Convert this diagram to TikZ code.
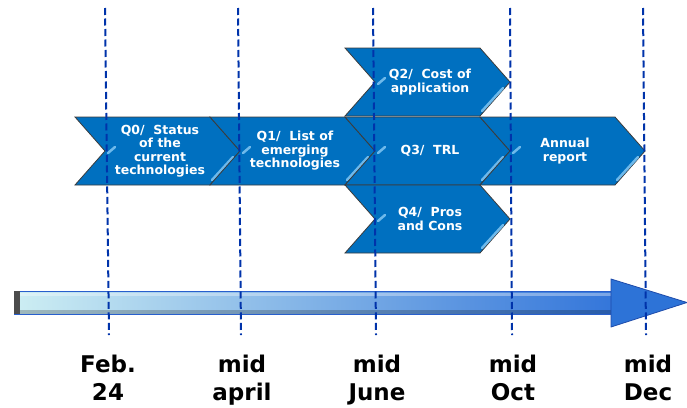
\documentclass[tikz,border=0pt]{standalone}
\usepackage{fontspec}
\setmainfont{DejaVu Sans}
\usetikzlibrary{calc}
\definecolor{chevblue}{RGB}{0,112,192}
\definecolor{chevedge}{RGB}{60,60,60}
\definecolor{glint}{RGB}{110,185,235}
\definecolor{dashblue}{RGB}{0,51,170}
\definecolor{shaftlight}{RGB}{205,238,243}
\definecolor{shaftdark}{RGB}{52,118,218}
\definecolor{shaftedge}{RGB}{40,95,205}
\definecolor{headblue}{RGB}{45,115,215}
\definecolor{headedge}{RGB}{30,75,170}
\tikzset{%
    chev/.style={fill=chevblue, draw=chevedge, line width=0.8pt, line join=miter},
    glow/.style={glint, line width=2.5pt, line cap=round},
    qtext/.style={text=white, font=\bfseries\fontsize{12.5}{13.5}\selectfont, align=center, inner sep=0pt},
    datelbl/.style={font=\bfseries\fontsize{23}{28}\selectfont, align=center, inner sep=0pt, anchor=base},
    milestone/.style={dashblue, line width=2pt, dash pattern=on 7pt off 3.5pt}
}
% chevron with its left top corner at (#1,#2)
\newcommand{\chevron}[2]{%
    \draw[chev] (#1,#2) -- ++(135,0) -- ++(30,34) -- ++(-30,34) -- ++(-135,0) -- ++(30,-34) -- cycle;
    \draw[glow] ($(#1,#2)+(158,40)$) -- ($(#1,#2)+(137,63)$);
    \draw[glow] ($(#1,#2)+(33,36)$) -- ($(#1,#2)+(40,30)$);
}

\begin{document}
\begin{tikzpicture}[x=1pt,y=-1pt]
    \useasboundingbox (0,0) rectangle (687,407);
    % work packages
    \chevron{75}{117}
    \chevron{210}{117}
    \chevron{345}{48}
    \chevron{345}{117}
    \chevron{345}{185}
    \chevron{480}{117}
    \node[qtext] (q0) at (160,151) {Q0/~ Status\\of the\\current\\technologies};
    \node[qtext] (q1) at (295,151) {Q1/~ List of\\emerging\\technologies};
    \node[qtext] (q2) at (430,82) {Q2/~ Cost of\\application};
    \node[qtext] (q3) at (430,151) {Q3/~ TRL};
    \node[qtext] (q4) at (430,219) {Q4/~ Pros\\and Cons};
    \node[qtext] (rep) at (565,151) {Annual\\report};
    % time axis
    \shadedraw[left color=shaftlight, right color=shaftdark, draw=shaftedge, line width=0.8pt] (14,291) rectangle (612,314);
    \fill[black, opacity=0.22] (20,310) rectangle (612,314);
    \fill[white, opacity=0.35] (20,293) rectangle (612,296);
    \fill[black!70] (14,291) rectangle (20,314);
    \filldraw[fill=headblue, draw=headedge, line width=0.8pt, line join=round] (611,279) -- (687,302.5) -- (611,327) -- cycle;
    % milestones
    \coordinate (t0) at (105,8);   \coordinate (b0) at (109,335);
    \coordinate (t1) at (238,8);   \coordinate (b1) at (241,335);
    \coordinate (t2) at (373,8);   \coordinate (b2) at (376,335);
    \coordinate (t3) at (510,8);   \coordinate (b3) at (512,335);
    \coordinate (t4) at (643,8);   \coordinate (b4) at (646,335);
    \draw[milestone] (t0) -- (b0);
    \draw[milestone] (t1) -- (b1);
    \draw[milestone] (t2) -- (b2);
    \draw[milestone] (t3) -- (b3);
    \draw[milestone] (t4) -- (b4);
    \node[datelbl] (d0) at (108,400) {Feb.\\24};
    \node[datelbl] (d1) at (242,400) {mid\\april};
    \node[datelbl] (d2) at (377,400) {mid\\June};
    \node[datelbl] (d3) at (513,400) {mid\\Oct};
    \node[datelbl] (d4) at (648,400) {mid\\Dec};
\end{tikzpicture}
\end{document}
